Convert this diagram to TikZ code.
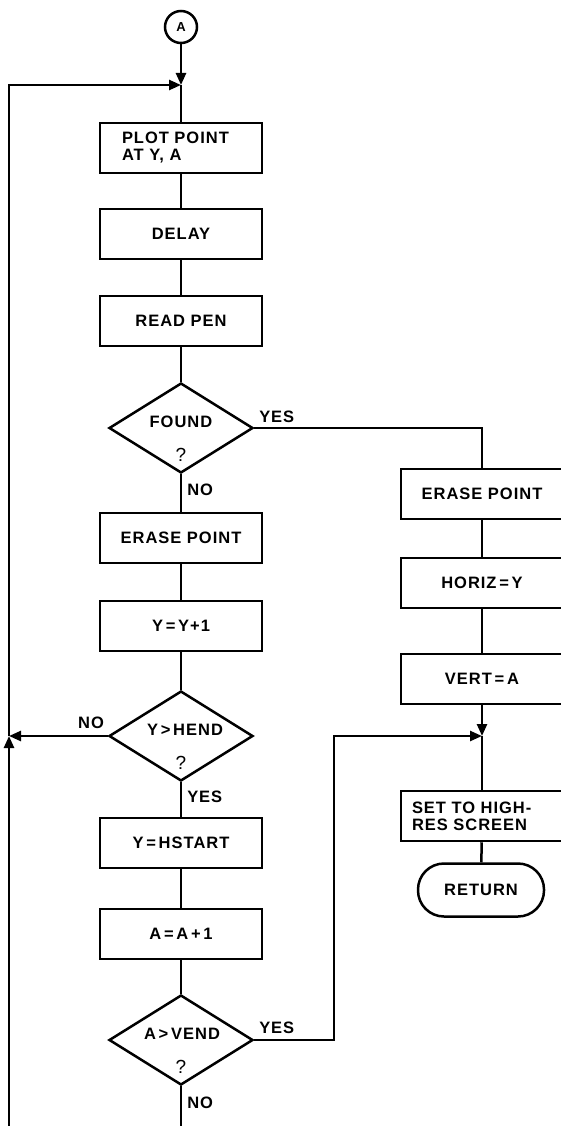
\documentclass[tikz,border=0pt]{standalone}
\usepackage{fontspec}
\setmainfont{Liberation Sans}[LetterSpace=6]
\usetikzlibrary{shapes.geometric,arrows.meta}

\begin{document}
\begin{tikzpicture}[x=1pt,y=-1pt,line width=2.5pt,
  box/.style={draw,minimum width=162pt,minimum height=50pt,inner sep=0pt,
    font=\fontsize{16.5}{17}\selectfont\bfseries},
  decision/.style={draw,diamond,minimum width=144pt,minimum height=90pt,inner sep=0pt},
  lbl/.style={font=\fontsize{16.5}{17}\selectfont\bfseries,inner sep=1pt},
  qmark/.style={font=\fontsize{19}{19}\selectfont,inner sep=0pt},
  arr/.style={-{Triangle[length=12pt,width=10pt]}}]

  \useasboundingbox (0,0) rectangle (560,1126);

  % main column
  \node[draw,circle,minimum size=32pt,inner sep=0pt,font=\fontsize{13}{13}\selectfont\bfseries] (A) at (181,27) {A};
  \coordinate (j1) at (181,85);
  \node[box,text width=118pt,align=left] (plot) at (181,148) {PLOT POINT\\AT Y, A};
  \node[box] (delay) at (181,234) {DELAY};
  \node[box] (readpen) at (181,321) {READ PEN};
  \node[decision] (found) at (181,428) {};
  \node[lbl] (foundt) at (181,422) {FOUND};
  \node[qmark] (foundq) at (181,455) {?};
  \node[box] (erase) at (181,538) {ERASE POINT};
  \node[box] (yinc) at (181,626) {Y\,=\,Y+1};
  \node[decision] (hend) at (181,736) {};
  \node[lbl] (hendt) at (185,730) {Y\,>\,HEND};
  \node[qmark] (hendq) at (181,763) {?};
  \node[box] (hstart) at (181,843) {Y\,=\,HSTART};
  \node[box] (ainc) at (181,934) {A\,=\,A\,+\,1};
  \node[decision] (vend) at (181,1040) {};
  \node[lbl] (vendt) at (182,1034) {A\,>\,VEND};
  \node[qmark] (vendq) at (181,1067) {?};
  \coordinate (bot) at (181,1130);
  \coordinate (lb) at (9,1130);
  \coordinate (j2) at (9,736);

  % right column
  \node[box] (erase2) at (482,494) {ERASE POINT};
  \node[box] (horiz) at (482,583) {HORIZ\,=\,Y};
  \node[box] (vert) at (482,679) {VERT\,=\,A};
  \coordinate (j3) at (482,736);
  \coordinate (turn) at (334,1040);
  \node[box,text width=140pt,align=left] (sethigh) at (482,816) {SET TO HIGH-\\RES SCREEN};
  \node[draw,rounded corners=26pt,minimum width=126pt,minimum height=53pt,
    font=\fontsize{16.5}{17}\selectfont\bfseries] (ret) at (481,890) {RETURN};

  % connectors
  \draw[arr] (A) -- (j1);
  \draw (j1) -- (plot);
  \draw (plot) -- (delay);
  \draw (delay) -- (readpen);
  \draw (readpen) -- (found);
  \draw (found.south) -- (erase);
  \draw (erase) -- (yinc);
  \draw (yinc) -- (hend);
  \draw (hend.south) -- (hstart);
  \draw (hstart) -- (ainc);
  \draw (ainc) -- (vend);
  \draw (vend.south) -- (bot);
  \draw (found.east) -| (erase2);
  \draw (erase2) -- (horiz);
  \draw (horiz) -- (vert);
  \draw[arr] (vert) -- (j3);
  \draw (j3) -- (sethigh);
  \draw (sethigh) -- (ret);
  \draw[arr] (hend.west) -- (j2);
  \draw[arr] (lb) -- (j2);
  \draw[arr] (j2) |- (j1);
  \draw[arr] (vend.east) -- (turn) |- (j3);

  \node[lbl,anchor=south west] (yes1) at (257,425) {YES};
  \node[lbl,anchor=west] (no1) at (185,490) {NO};
  \node[lbl,anchor=south] (no2) at (91,731) {NO};
  \node[lbl,anchor=west] (yes2) at (185,797) {YES};
  \node[lbl,anchor=south west] (yes3) at (257,1036) {YES};
  \node[lbl,anchor=west] (no3) at (185,1103) {NO};
\end{tikzpicture}
\end{document}
